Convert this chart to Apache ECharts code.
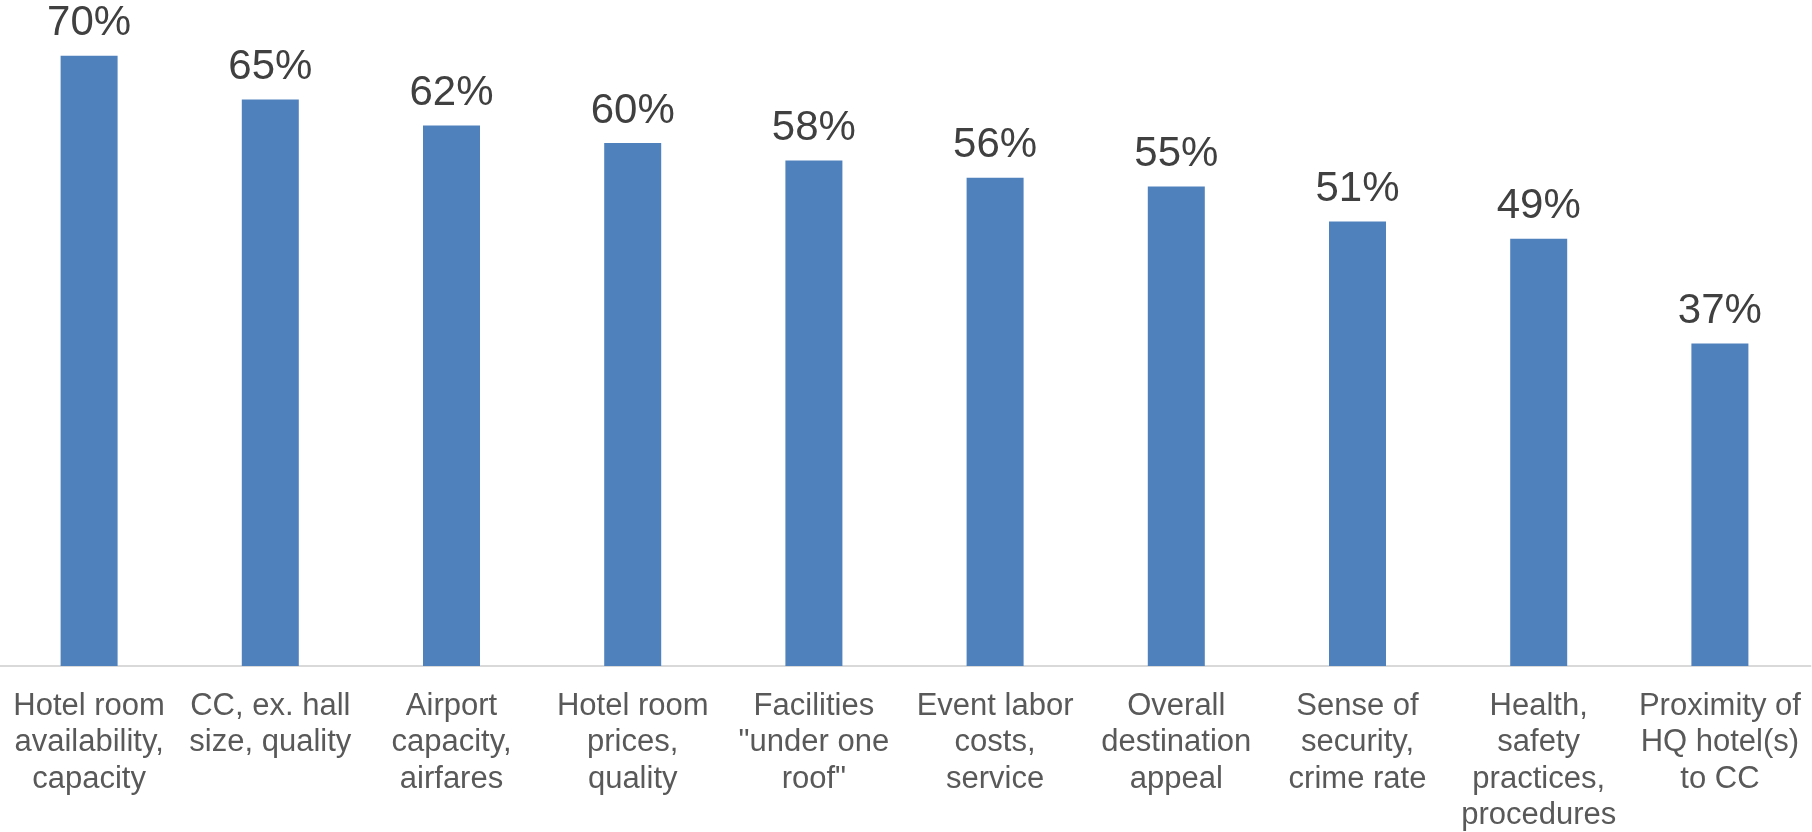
<!DOCTYPE html>
<html>
<head>
<meta charset="utf-8">
<style>
  html, body { margin: 0; padding: 0; background: #ffffff; }
  #chart { width: 1812px; height: 832px; }
</style>
<script src="https://cdn.jsdelivr.net/npm/echarts@6/dist/echarts.min.js"></script>
</head>
<body>
<div id="chart"></div>
<script>
// Factor categories (line breaks placed as they wrap under each bar)
const categories = [
  'Hotel room\navailability,\ncapacity',
  'CC, ex. hall\nsize, quality',
  'Airport\ncapacity,\nairfares',
  'Hotel room\nprices,\nquality',
  'Facilities\n"under one\nroof"',
  'Event labor\ncosts,\nservice',
  'Overall\ndestination\nappeal',
  'Sense of\nsecurity,\ncrime rate',
  'Health,\nsafety\npractices,\nprocedures',
  'Proximity of\nHQ hotel(s)\nto CC'
];

// Share of respondents, percent
const shares = [70, 65, 62, 60, 58, 56, 55, 51, 49, 37];

const chart = echarts.init(document.getElementById('chart'), null, { renderer: 'canvas' });

chart.setOption({
  animation: false,
  backgroundColor: '#ffffff',
  textStyle: { fontFamily: '"Liberation Sans", Arial, sans-serif' },
  grid: {
    left: -1.5, right: 1.5, top: 0, bottom: 166,
    containLabel: false,
    outerBoundsMode: 'none'
  },
  xAxis: {
    type: 'category',
    data: categories,
    axisLine: { show: true, lineStyle: { color: '#d9d9d9', width: 2 } },
    axisTick: { show: false },
    axisLabel: {
      interval: 0,
      margin: 22,
      color: '#595959',
      fontSize: 31,
      lineHeight: 36.4,
      align: 'center',
      fontFamily: '"Liberation Sans", Arial, sans-serif'
    }
  },
  yAxis: {
    type: 'value',
    min: 0,
    max: 76.4,
    show: false,
    splitLine: { show: false }
  },
  series: [{
    type: 'bar',
    data: shares,
    barWidth: 57,
    itemStyle: { color: '#4f81bd' },
    label: {
      show: true,
      position: 'top',
      distance: 11,
      formatter: '{c}%',
      color: '#404040',
      fontSize: 42,
      fontFamily: '"Liberation Sans", Arial, sans-serif'
    }
  }]
});
</script>
</body>
</html>
